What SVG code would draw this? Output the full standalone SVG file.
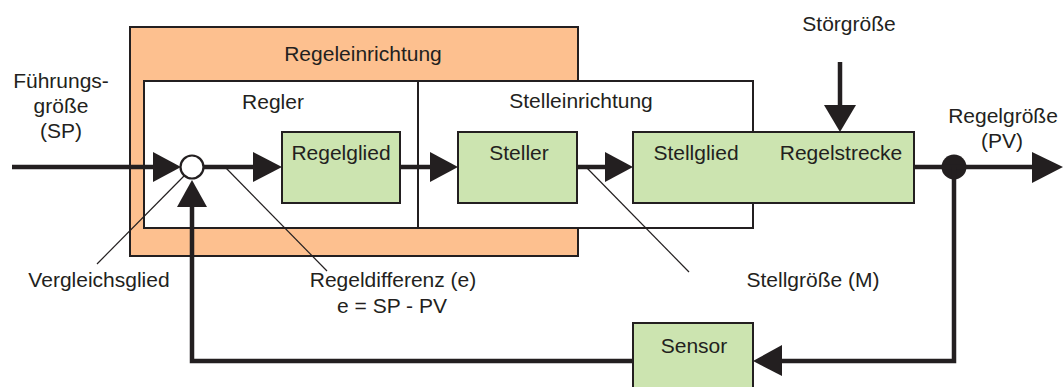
<svg xmlns="http://www.w3.org/2000/svg" width="1063" height="387" viewBox="0 0 1063 387">
<style>
text{font-family:"Liberation Sans",Arial,sans-serif;font-size:21px;fill:#231f20;text-anchor:middle}
.box{stroke:#231f20;stroke-width:2}
.green{fill:#cce4b0}
.orange{fill:#fdc08f}
.white{fill:#fff}
.flow{stroke:#231f20;stroke-width:4.5;fill:none}
.ptr{stroke:#231f20;stroke-width:1.2;fill:none}
.head{fill:#231f20}
</style>
<rect width="1063" height="387" fill="#fff"/>
<g id="regeleinrichtung">
<rect class="box orange" x="130" y="27" width="448" height="229"/>
<text x="363" y="61">Regeleinrichtung</text>
</g>
<g id="regler">
<rect class="box white" x="144" y="81" width="274" height="147"/>
<text x="273" y="109">Regler</text>
</g>
<g id="stelleinrichtung">
<rect class="box white" x="418" y="81" width="335" height="147"/>
<text x="581" y="108">Stelleinrichtung</text>
</g>
<g id="regelglied">
<rect class="box green" x="282" y="132" width="118" height="71"/>
<text x="341" y="160">Regelglied</text>
</g>
<g id="steller">
<rect class="box green" x="458" y="132" width="119" height="71"/>
<text x="519" y="160">Steller</text>
</g>
<g id="stellglied-regelstrecke">
<rect class="box green" x="633" y="132" width="281" height="71"/>
<text x="696" y="160">Stellglied</text>
<text x="841" y="160">Regelstrecke</text>
</g>
<g id="sensor">
<rect class="box green" x="633" y="323" width="120" height="70"/>
<text x="694" y="353">Sensor</text>
</g>
<g id="vergleichsglied">
<circle cx="192" cy="167" r="11.5" fill="#fff" stroke="#231f20" stroke-width="2.2"/>
</g>
<g id="verzweigung">
<circle cx="954" cy="167" r="12.5" fill="#231f20"/>
</g>
<g id="connectors">
<line class="flow" x1="12" y1="167" x2="156" y2="167"/>
<polygon class="head" points="153,152 181,167 153,182"/>
<line class="flow" x1="203" y1="167" x2="256" y2="167"/>
<polygon class="head" points="253,152 282,167 253,182"/>
<line class="flow" x1="400" y1="167" x2="432" y2="167"/>
<polygon class="head" points="430,152 458,167 430,182"/>
<line class="flow" x1="577" y1="167" x2="607" y2="167"/>
<polygon class="head" points="605,152 633,167 605,182"/>
<line class="flow" x1="914" y1="167" x2="1035" y2="167"/>
<polygon class="head" points="1032,152 1063,167 1032,183"/>
<line class="flow" x1="840" y1="62" x2="840" y2="108"/>
<polygon class="head" points="824,105 856,105 840,132"/>
<polyline class="flow" points="954,167 954,361 780,361"/>
<polygon class="head" points="782,345 753,361 782,376"/>
<polyline class="flow" points="633,361 192,361 192,205"/>
<polygon class="head" points="177,207 207,207 192,180"/>
<line class="ptr" x1="184" y1="176" x2="97" y2="264"/>
<line class="ptr" x1="225" y1="167" x2="327" y2="271"/>
<line class="ptr" x1="586" y1="167" x2="689" y2="272"/>
</g>
<g id="labels">
<text x="61" y="88">Führungs-</text>
<text x="61" y="113">größe</text>
<text x="61" y="138">(SP)</text>
<text x="849" y="31">Störgröße</text>
<text x="1003" y="123">Regelgröße</text>
<text x="1002" y="148">(PV)</text>
<text x="99" y="287">Vergleichsglied</text>
<text x="393" y="287">Regeldifferenz (e)</text>
<text x="392" y="313">e = SP - PV</text>
<text x="813" y="287">Stellgröße (M)</text>
</g>
</svg>
